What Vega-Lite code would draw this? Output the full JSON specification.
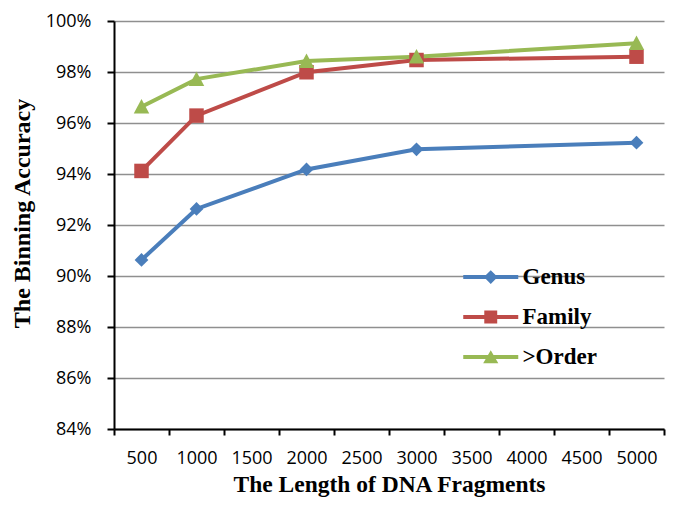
{
  "$schema": "https://vega.github.io/schema/vega-lite/v6.json",
  "width": 550,
  "height": 408,
  "autosize": "none",
  "padding": {"left": 114, "top": 21, "right": 21, "bottom": 76},
  "background": "white",
  "config": {"view": {"stroke": null}},
  "data": {
    "values": [
      {"length": 500, "series": "Genus", "acc": 0.9063},
      {"length": 1000, "series": "Genus", "acc": 0.9263},
      {"length": 2000, "series": "Genus", "acc": 0.9418},
      {"length": 3000, "series": "Genus", "acc": 0.9497},
      {"length": 5000, "series": "Genus", "acc": 0.9523},
      {"length": 500, "series": "Family", "acc": 0.9412},
      {"length": 1000, "series": "Family", "acc": 0.9629},
      {"length": 2000, "series": "Family", "acc": 0.9799},
      {"length": 3000, "series": "Family", "acc": 0.9847},
      {"length": 5000, "series": "Family", "acc": 0.986},
      {"length": 500, "series": ">Order", "acc": 0.9664},
      {"length": 1000, "series": ">Order", "acc": 0.9772},
      {"length": 2000, "series": ">Order", "acc": 0.9843},
      {"length": 3000, "series": ">Order", "acc": 0.986},
      {"length": 5000, "series": ">Order", "acc": 0.9913}
    ]
  },
  "encoding": {
    "x": {
      "field": "length",
      "type": "quantitative",
      "scale": {"domain": [250, 5250], "nice": false, "zero": false},
      "axis": {
        "title": "The Length of DNA Fragments",
        "values": [250, 750, 1250, 1750, 2250, 2750, 3250, 3750, 4250, 4750, 5250],
        "labelExpr": "datum.value > 5000 ? '' : format(datum.value + 250, 'd')",
        "labelOffset": 27.5,
        "labelOverlap": false,
        "labelFlush": false,
        "labelBound": false,
        "grid": false,
        "domainColor": "#000000",
        "domainWidth": 2,
        "tickColor": "#000000",
        "tickWidth": 2,
        "tickSize": 6,
        "labelFont": "Open Sans",
        "labelFontSize": 18,
        "labelColor": "#000000",
        "labelPadding": 14,
        "titleFont": "Liberation Serif",
        "titleFontSize": 23.5,
        "titleFontWeight": "bold",
        "titleColor": "#000000",
        "titlePadding": 5
      }
    },
    "y": {
      "field": "acc",
      "type": "quantitative",
      "scale": {"domain": [0.84, 1.0], "nice": false, "zero": false},
      "axis": {
        "title": "The Binning Accuracy",
        "values": [0.84, 0.86, 0.88, 0.9, 0.92, 0.94, 0.96, 0.98, 1.0],
        "format": ".0%",
        "grid": true,
        "gridColor": "#8f8f8f",
        "gridWidth": 1.5,
        "domainColor": "#000000",
        "domainWidth": 2,
        "tickColor": "#000000",
        "tickWidth": 2,
        "tickSize": 7,
        "labelFont": "Open Sans",
        "labelFontSize": 18,
        "labelColor": "#000000",
        "labelPadding": 16,
        "titleFont": "Liberation Serif",
        "titleFontSize": 24,
        "titleFontWeight": "bold",
        "titleColor": "#000000",
        "titleY": 192,
        "titleX": -80
      }
    },
    "color": {
      "field": "series",
      "type": "nominal",
      "scale": {"domain": ["Genus", "Family", ">Order"], "range": ["#4a7ebb", "#be4b48", "#98b954"]},
      "legend": {
        "title": null,
        "orient": "none",
        "legendX": 362.75,
        "legendY": 242,
        "padding": 0,
        "offset": 0,
        "symbolSize": 756.25,
        "labelOffset": 17.75,
        "rowPadding": 14,
        "labelFont": "Liberation Serif",
        "labelFontWeight": "bold",
        "labelFontSize": 23,
        "labelColor": "#000000",
        "encode": {
          "symbols": {
            "update": {
              "shape": {"signal": "datum.value === 'Genus' ? 'M-2,-0.145H2V0.145H-2Z M0,-0.5L0.5,0L0,0.5L-0.5,0Z' : datum.value === 'Family' ? 'M-2,-0.145H2V0.145H-2Z M-0.47,-0.47H0.47V0.47H-0.47Z' : 'M-2,-0.145H2V0.145H-2Z M0,-0.5L0.55,0.45H-0.55Z'"},
              "fill": {"scale": "color", "field": "value"},
              "stroke": {"value": "transparent"},
              "strokeWidth": {"value": 0},
              "opacity": {"value": 1},
              "fillOpacity": {"value": 1}
            }
          }
        }
      }
    }
  },
  "layer": [
    {
      "mark": {"type": "line", "strokeWidth": 4}
    },
    {
      "transform": [{"filter": "datum.series === 'Genus'"}],
      "mark": {"type": "point", "filled": true, "opacity": 1, "size": 210, "shape": "M0,-0.95L0.95,0L0,0.95L-0.95,0Z"}
    },
    {
      "transform": [{"filter": "datum.series === 'Family'"}],
      "mark": {"type": "point", "filled": true, "opacity": 1, "size": 210, "shape": "M-1,-1H1V1H-1Z"}
    },
    {
      "transform": [{"filter": "datum.series === '>Order'"}],
      "mark": {"type": "point", "filled": true, "opacity": 1, "size": 210, "shape": "M0,-1.05L1.07,0.95H-1.07Z"}
    }
  ]
}
